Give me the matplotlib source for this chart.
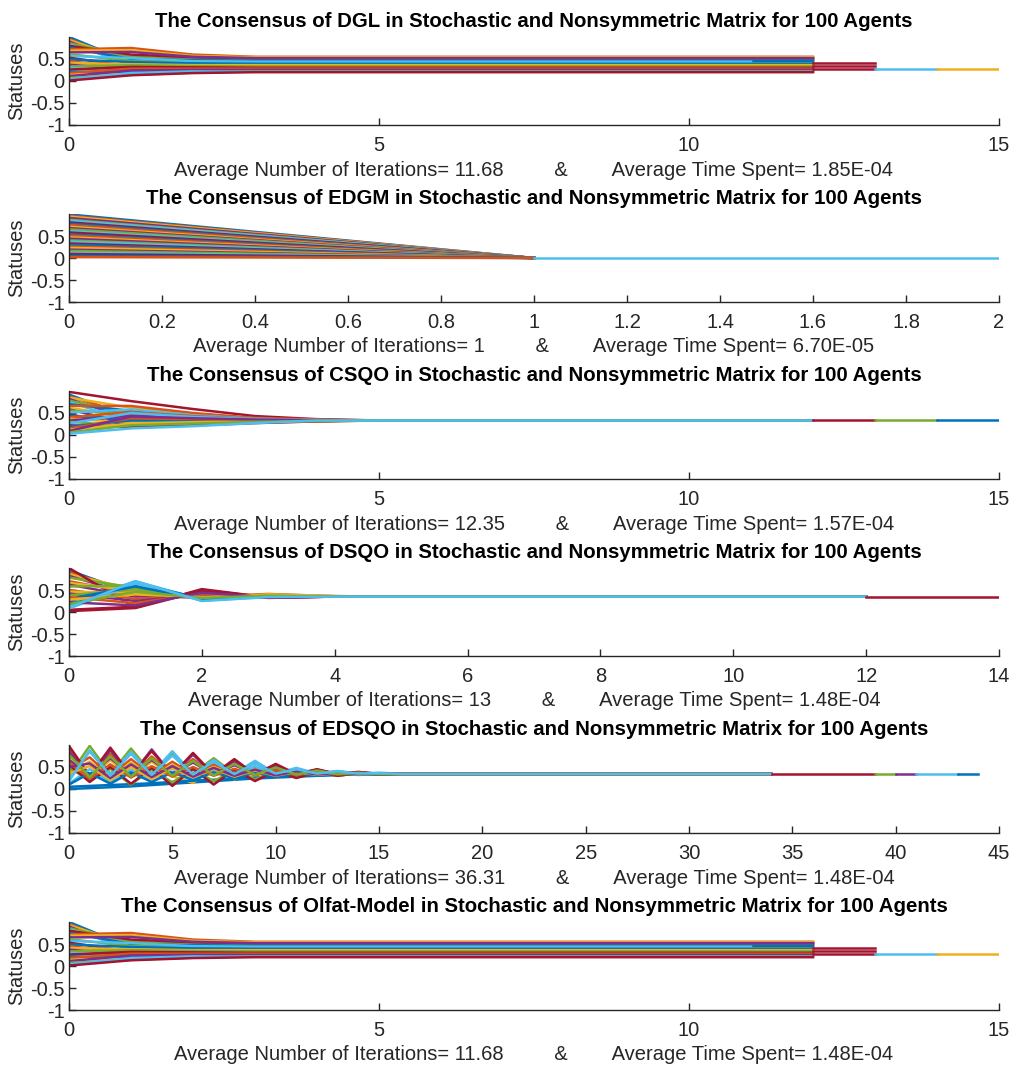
import matplotlib
matplotlib.use("Agg")
import matplotlib.pyplot as plt
import numpy as np

# ---- data ---------------------------------------------------------------
titles = ["DGL", "EDGM", "CSQO", "DSQO", "EDSQO", "Olfat-Model"]
avg_iterations = ["11.68", "1", "12.35", "13", "36.31", "11.68"]
avg_times = ["1.85E-04", "6.70E-05", "1.57E-04", "1.48E-04", "1.48E-04", "1.48E-04"]
x_limits = [15, 2, 15, 14, 45, 15]
x_steps = [5, 0.2, 5, 2, 5, 5]

# DGL: status at iterations 0, 1, 2, 3 (then flat until the run stops)
dgl_paths = [
    [1.00, 0.42, 0.48, 0.50], [0.96, 0.38, 0.45, 0.47], [0.93, 0.47, 0.52, 0.53],
    [0.90, 0.35, 0.40, 0.42], [0.86, 0.55, 0.50, 0.49], [0.83, 0.40, 0.44, 0.45],
    [0.80, 0.60, 0.54, 0.52], [0.76, 0.50, 0.47, 0.46], [0.72, 0.75, 0.60, 0.55],
    [0.69, 0.70, 0.57, 0.54], [0.65, 0.66, 0.55, 0.52], [0.61, 0.45, 0.41, 0.40],
    [0.57, 0.52, 0.45, 0.44], [0.53, 0.33, 0.36, 0.37], [0.49, 0.43, 0.40, 0.39],
    [0.45, 0.30, 0.33, 0.34], [0.41, 0.38, 0.36, 0.36], [0.37, 0.27, 0.30, 0.31],
    [0.33, 0.36, 0.34, 0.33], [0.30, 0.22, 0.27, 0.29], [0.26, 0.32, 0.31, 0.30],
    [0.22, 0.19, 0.24, 0.26], [0.18, 0.28, 0.28, 0.28], [0.14, 0.16, 0.21, 0.24],
    [0.11, 0.24, 0.25, 0.25], [0.07, 0.14, 0.19, 0.22], [0.04, 0.18, 0.22, 0.21],
    [0.01, 0.13, 0.18, 0.20],
]
dgl_stop = [12, 12, 12, 12, 12, 12, 12, 12, 12, 12, 12, 12, 11, 12,
            12, 12, 12, 11, 12, 12, 12, 12, 12, 11, 12, 12, 12, 12]
dgl_tails = [(12, 13, 0.40), (12, 13, 0.34), (12, 13, 0.28), (13, 14, 0.27), (14, 15, 0.27)]

# EDGM: every agent goes straight to 0 in one iteration
edgm_start = [0.99, 0.96, 0.94, 0.91, 0.87, 0.85, 0.81, 0.78, 0.75, 0.71,
              0.68, 0.65, 0.61, 0.58, 0.54, 0.51, 0.47, 0.44, 0.40, 0.37,
              0.33, 0.30, 0.26, 0.23, 0.19, 0.16, 0.12, 0.09, 0.05, 0.02]
edgm_final = 0.0
edgm_tails = [(1, 2, 0.0)]

# CSQO: iterations 0..4, then flat at consensus
csqo_paths = [
    [0.92, 0.40, 0.36, 0.34, 0.33], [0.88, 0.45, 0.40, 0.36, 0.34], [0.85, 0.62, 0.48, 0.38, 0.34],
    [0.82, 0.36, 0.33, 0.33, 0.33], [0.78, 0.50, 0.42, 0.36, 0.34], [0.75, 0.30, 0.30, 0.31, 0.32],
    [0.98, 0.77, 0.59, 0.43, 0.36], [0.70, 0.55, 0.44, 0.37, 0.34], [0.66, 0.66, 0.50, 0.39, 0.35],
    [0.62, 0.40, 0.37, 0.34, 0.33], [0.58, 0.25, 0.28, 0.30, 0.32], [0.55, 0.48, 0.40, 0.35, 0.33],
    [0.51, 0.58, 0.45, 0.37, 0.34], [0.47, 0.22, 0.26, 0.29, 0.32], [0.44, 0.35, 0.34, 0.33, 0.33],
    [0.40, 0.52, 0.43, 0.36, 0.34], [0.37, 0.28, 0.30, 0.31, 0.32], [0.33, 0.44, 0.39, 0.35, 0.33],
    [0.30, 0.20, 0.24, 0.28, 0.31], [0.26, 0.50, 0.41, 0.36, 0.33], [0.22, 0.18, 0.22, 0.27, 0.31],
    [0.19, 0.33, 0.33, 0.33, 0.33], [0.15, 0.38, 0.36, 0.34, 0.33], [0.12, 0.26, 0.29, 0.31, 0.32],
    [0.09, 0.42, 0.38, 0.35, 0.33], [0.06, 0.22, 0.26, 0.30, 0.32], [0.03, 0.15, 0.20, 0.27, 0.33],
]
csqo_final = 0.33
csqo_stop = 12
csqo_tails = [(12, 13, 0.33), (13, 14, 0.33), (14, 15, 0.33)]

# DSQO: iterations 0..4, then flat at consensus
dsqo_paths = [
    [0.95, 0.40, 0.33, 0.35, 0.35], [0.90, 0.45, 0.36, 0.37, 0.35], [0.86, 0.50, 0.34, 0.38, 0.36],
    [0.82, 0.38, 0.32, 0.36, 0.35], [0.78, 0.55, 0.30, 0.37, 0.35], [0.20, 0.70, 0.28, 0.35, 0.35],
    [1.00, 0.10, 0.52, 0.33, 0.35], [0.15, 0.66, 0.30, 0.36, 0.35], [0.70, 0.42, 0.35, 0.41, 0.36],
    [0.66, 0.48, 0.31, 0.40, 0.36], [0.62, 0.35, 0.37, 0.34, 0.35], [0.58, 0.60, 0.29, 0.36, 0.35],
    [0.12, 0.68, 0.27, 0.35, 0.35], [0.05, 0.12, 0.50, 0.33, 0.35], [0.25, 0.62, 0.31, 0.36, 0.35],
    [0.50, 0.30, 0.38, 0.35, 0.35], [0.46, 0.44, 0.33, 0.39, 0.36], [0.42, 0.25, 0.40, 0.34, 0.35],
    [0.38, 0.52, 0.30, 0.37, 0.35], [0.08, 0.64, 0.26, 0.34, 0.35], [0.02, 0.09, 0.48, 0.32, 0.35],
    [0.30, 0.58, 0.29, 0.36, 0.35], [0.34, 0.20, 0.42, 0.34, 0.35], [0.28, 0.40, 0.34, 0.38, 0.35],
    [0.22, 0.15, 0.44, 0.33, 0.35], [0.18, 0.46, 0.32, 0.37, 0.35], [0.10, 0.70, 0.25, 0.34, 0.35],
]
dsqo_final = 0.35
dsqo_stop = 12
dsqo_tails = [(12, 14, 0.35)]

# EDSQO: iterations 0..16 (oscillating), then flat at consensus
edsqo_paths = [
    [0.00, 0.02, 0.04, 0.06, 0.09, 0.12, 0.15, 0.18, 0.21, 0.24, 0.26, 0.28, 0.30, 0.32, 0.33, 0.34, 0.34],
    [0.92, 0.30, 0.80, 0.31, 0.74, 0.32, 0.68, 0.33, 0.60, 0.33, 0.52, 0.34, 0.43, 0.34, 0.38, 0.34, 0.34],
    [0.70, 0.25, 0.66, 0.27, 0.62, 0.29, 0.14, 0.46, 0.22, 0.42, 0.27, 0.39, 0.31, 0.36, 0.33, 0.35, 0.34],
    [0.85, 0.28, 0.88, 0.30, 0.90, 0.32, 0.78, 0.33, 0.64, 0.34, 0.53, 0.34, 0.44, 0.34, 0.38, 0.35, 0.34],
    [0.30, 0.98, 0.34, 0.92, 0.35, 0.80, 0.35, 0.70, 0.35, 0.60, 0.35, 0.46, 0.35, 0.40, 0.35, 0.36, 0.35],
    [0.22, 0.85, 0.33, 0.84, 0.34, 0.86, 0.34, 0.66, 0.35, 0.64, 0.35, 0.48, 0.35, 0.41, 0.35, 0.37, 0.35],
    [0.98, 0.30, 0.94, 0.31, 0.86, 0.32, 0.82, 0.33, 0.68, 0.33, 0.57, 0.34, 0.45, 0.34, 0.39, 0.34, 0.34],
    [0.05, 0.07, 0.09, 0.11, 0.13, 0.16, 0.19, 0.21, 0.24, 0.26, 0.28, 0.30, 0.31, 0.32, 0.33, 0.34, 0.34],
    [0.45, 0.72, 0.30, 0.68, 0.32, 0.62, 0.33, 0.56, 0.34, 0.50, 0.34, 0.43, 0.34, 0.38, 0.35, 0.35, 0.34],
    [0.40, 0.62, 0.28, 0.60, 0.30, 0.55, 0.31, 0.50, 0.32, 0.45, 0.33, 0.40, 0.34, 0.37, 0.34, 0.35, 0.34],
    [0.66, 0.32, 0.70, 0.33, 0.66, 0.34, 0.60, 0.34, 0.54, 0.34, 0.47, 0.34, 0.41, 0.34, 0.37, 0.34, 0.34],
    [0.48, 0.20, 0.46, 0.10, 0.45, 0.15, 0.44, 0.18, 0.42, 0.22, 0.40, 0.26, 0.38, 0.30, 0.36, 0.33, 0.34],
    [0.12, 0.45, 0.16, 0.44, 0.20, 0.46, 0.22, 0.44, 0.25, 0.52, 0.28, 0.44, 0.31, 0.38, 0.33, 0.35, 0.34],
    [0.55, 0.16, 0.50, 0.12, 0.48, 0.07, 0.46, 0.10, 0.44, 0.18, 0.41, 0.25, 0.38, 0.30, 0.36, 0.33, 0.34],
    [0.10, 0.36, 0.12, 0.38, 0.16, 0.38, 0.20, 0.38, 0.24, 0.37, 0.27, 0.36, 0.30, 0.35, 0.32, 0.34, 0.34],
    [0.60, 0.24, 0.56, 0.26, 0.52, 0.28, 0.50, 0.30, 0.46, 0.31, 0.42, 0.32, 0.39, 0.33, 0.36, 0.34, 0.34],
    [0.35, 0.52, 0.20, 0.50, 0.22, 0.48, 0.26, 0.46, 0.28, 0.42, 0.30, 0.39, 0.32, 0.36, 0.33, 0.35, 0.34],
    [0.50, 0.58, 0.25, 0.56, 0.27, 0.52, 0.28, 0.48, 0.30, 0.44, 0.31, 0.40, 0.33, 0.37, 0.34, 0.35, 0.34],
    [0.78, 0.27, 0.74, 0.28, 0.70, 0.30, 0.64, 0.31, 0.57, 0.32, 0.49, 0.33, 0.42, 0.34, 0.37, 0.34, 0.34],
    [0.18, 0.88, 0.30, 0.80, 0.32, 0.76, 0.33, 0.62, 0.34, 0.58, 0.35, 0.45, 0.35, 0.40, 0.35, 0.36, 0.34],
]
edsqo_stop = 34
edsqo_tails = [(34, 39, 0.34), (39, 40, 0.34), (40, 41, 0.34), (41, 43, 0.34), (43, 44, 0.34)]

# Olfat-Model run looks the same as DGL
olfat_paths = dgl_paths
olfat_stop = dgl_stop
olfat_tails = dgl_tails

# ---- styling --------------------------------------------------------------
# MATLAB default line colour order
COLORS = ["#0072BD", "#D95319", "#EDB120", "#7E2F8E", "#77AC30", "#4DBEEE", "#A2142F"]
dgl_tail_colors = [6, 6, 6, 5, 2]
edgm_tail_colors = [5]
csqo_tail_colors = [6, 4, 0]
dsqo_tail_colors = [6]
edsqo_tail_colors = [6, 4, 3, 5, 0]

plt.rcParams["font.family"] = ["Liberation Sans", "DejaVu Sans"]
plt.rcParams["axes.unicode_minus"] = False
LW = 1.8
DARK = "#262626"
FS = 14.5


def draw_agents(ax, paths, stop, tails, tail_colors):
    for i, path in enumerate(paths):
        end = stop[i] if isinstance(stop, list) else stop
        xs = list(range(len(path))) + [end]
        ys = list(path) + [path[-1]]
        ax.plot(xs, ys, color=COLORS[i % 7], lw=LW)
    for (x0, x1, v), c in zip(tails, tail_colors):
        ax.plot([x0, x1], [v, v], color=COLORS[c], lw=LW)


panels = [
    (dgl_paths, dgl_stop, dgl_tails, dgl_tail_colors),
    ([[s, edgm_final] for s in edgm_start], 1, edgm_tails, edgm_tail_colors),
    ([p + [csqo_final] for p in csqo_paths], csqo_stop, csqo_tails, csqo_tail_colors),
    ([p + [dsqo_final] for p in dsqo_paths], dsqo_stop, dsqo_tails, dsqo_tail_colors),
    (edsqo_paths, edsqo_stop, edsqo_tails, edsqo_tail_colors),
    (olfat_paths, olfat_stop, olfat_tails, dgl_tail_colors),
]

W, H = 1013, 1066
fig = plt.figure(figsize=(W / 100, H / 100), dpi=100)
left, right = 69, 999

for k in range(6):
    bottom = 125 + 177 * k
    ax = fig.add_axes([left / W, 1 - bottom / H, (right - left) / W, 88 / H])
    paths, stop, tails, tail_colors = panels[k]
    draw_agents(ax, paths, stop, tails, tail_colors)

    ax.set_xlim(0, x_limits[k])
    ax.set_ylim(-1, 1)
    xt = np.arange(0, x_limits[k] + 1e-9, x_steps[k])
    ax.set_xticks(xt)
    ax.set_xticklabels([f"{v:g}" for v in xt])
    ax.set_yticks([-1, -0.5, 0, 0.5])
    ax.set_yticklabels(["-1", "-0.5", "0", "0.5"])

    ax.spines["top"].set_visible(False)
    ax.spines["right"].set_visible(False)
    for side in ["left", "bottom"]:
        ax.spines[side].set_color(DARK)
        ax.spines[side].set_linewidth(1.0)
    ax.tick_params(direction="in", length=5, width=1, colors=DARK, labelsize=FS)
    ax.tick_params(axis="x", pad=8)
    ax.tick_params(axis="y", pad=3)

    ax.set_title("The Consensus of " + titles[k] +
                 " in Stochastic and Nonsymmetric Matrix for 100 Agents",
                 fontsize=14.7, fontweight="bold", pad=7)
    ax.text(0.5, -45 / 88,
            "Average Number of Iterations= " + avg_iterations[k] +
            "         &        Average Time Spent= " + avg_times[k],
            transform=ax.transAxes, ha="center", va="center", fontsize=FS, color=DARK)
    ax.set_ylabel("Statuses", fontsize=FS, color=DARK)
    ax.yaxis.set_label_coords(-(69 - 26) / 930, 0.5)

fig.savefig("out.png", dpi=100)
